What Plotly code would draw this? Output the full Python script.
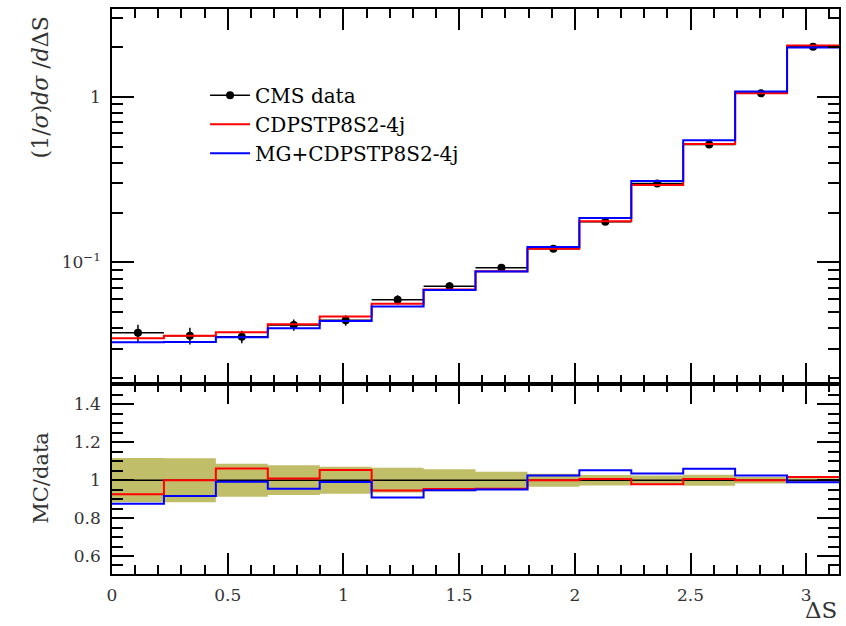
import numpy as np
import plotly.graph_objects as go

# Delta S distribution: 14 equal bins spanning [0, pi]
n_bins = 14
edges = np.linspace(0.0, np.pi, n_bins + 1)
centers = 0.5 * (edges[:-1] + edges[1:])
half_width = 0.5 * (edges[1] - edges[0])

# Normalised cross section (1/sigma) dsigma/dDeltaS
cms_data = [0.0377, 0.0362, 0.0357, 0.0420, 0.0448, 0.0596, 0.0720,
            0.0928, 0.1210, 0.1760, 0.3000, 0.5150, 1.048, 2.000]
cms_err = [0.0044, 0.0042, 0.0031, 0.0033, 0.0032, 0.0039, 0.0042,
           0.0042, 0.0041, 0.0049, 0.0075, 0.0150, 0.0180, 0.0200]
cdp_4j = [0.0349, 0.0362, 0.0379, 0.0424, 0.0472, 0.0564, 0.0687,
          0.0886, 0.1210, 0.1772, 0.2937, 0.5186, 1.048, 2.034]
mg_cdp_4j = [0.0330, 0.0332, 0.0354, 0.0401, 0.0444, 0.0542, 0.0682,
             0.0882, 0.1240, 0.1853, 0.3105, 0.5464, 1.074, 1.978]

legend_names = ["CMS data", "CDPSTP8S2-4j", "MG+CDPSTP8S2-4j"]

data_arr = np.array(cms_data)
err_arr = np.array(cms_err)


def step(vals):
    v = list(vals)
    return v + [v[-1]]


FONT = "DejaVu Serif"
RED = "#ff0000"
BLUE = "#0000ff"
BAND = "#c0be68"

fig = go.Figure()

# ---- upper panel ----
# data points with bin-width horizontal bars and vertical error bars
fig.add_trace(go.Scatter(
    x=centers, y=cms_data, mode="markers", showlegend=False,
    marker=dict(color="black", size=8),
    error_y=dict(type="data", array=cms_err, color="black", thickness=1.5, width=0),
    error_x=dict(type="constant", value=half_width, color="black", thickness=1.5, width=0),
    xaxis="x2", yaxis="y2"))
# legend entry for the data: marker with a line through it
fig.add_trace(go.Scatter(
    x=[None], y=[None], mode="lines+markers", name=legend_names[0],
    line=dict(color="black", width=1.5), marker=dict(color="black", size=8),
    xaxis="x2", yaxis="y2"))
fig.add_trace(go.Scatter(
    x=edges, y=step(cdp_4j), mode="lines", line_shape="hv",
    line=dict(color=RED, width=2), name=legend_names[1],
    xaxis="x2", yaxis="y2"))
fig.add_trace(go.Scatter(
    x=edges, y=step(mg_cdp_4j), mode="lines", line_shape="hv",
    line=dict(color=BLUE, width=2), name=legend_names[2],
    xaxis="x2", yaxis="y2"))

# ---- ratio panel ----
band_lo = 1.0 - err_arr / data_arr
band_hi = 1.0 + err_arr / data_arr
fig.add_trace(go.Scatter(
    x=edges, y=step(band_lo), mode="lines", line_shape="hv",
    line=dict(width=0, color=BAND), showlegend=False, xaxis="x", yaxis="y"))
fig.add_trace(go.Scatter(
    x=edges, y=step(band_hi), mode="lines", line_shape="hv",
    line=dict(width=0, color=BAND), fill="tonexty", fillcolor=BAND,
    showlegend=False, xaxis="x", yaxis="y"))
fig.add_trace(go.Scatter(
    x=edges, y=step(data_arr / data_arr), mode="lines", line_shape="hv",
    line=dict(color="black", width=1.5), showlegend=False, xaxis="x", yaxis="y"))
fig.add_trace(go.Scatter(
    x=edges, y=step(np.array(cdp_4j) / data_arr), mode="lines", line_shape="hv",
    line=dict(color=RED, width=2), showlegend=False, xaxis="x", yaxis="y"))
fig.add_trace(go.Scatter(
    x=edges, y=step(np.array(mg_cdp_4j) / data_arr), mode="lines", line_shape="hv",
    line=dict(color=BLUE, width=2), showlegend=False, xaxis="x", yaxis="y"))

tick_font = dict(family=FONT, size=17, color="#333333")
axis_common = dict(showline=True, linecolor="black", linewidth=1.5, mirror="ticks",
                   ticks="inside", tickcolor="black", tickwidth=1.5,
                   showgrid=False, zeroline=False)

log_minor = [k * 10.0 ** e for e in (-2, -1, 0) for k in range(2, 10)]

fig.update_layout(
    width=846, height=626,
    margin=dict(l=112, r=5, t=9, b=52),
    paper_bgcolor="white", plot_bgcolor="white",
    showlegend=True,
    legend=dict(x=0.128, y=0.882, xanchor="left", yanchor="top", traceorder="normal",
                bgcolor="rgba(0,0,0,0)", font=dict(family=FONT, size=20, color="black"),
                itemwidth=40, tracegroupgap=0),
    xaxis=dict(domain=[0, 1], range=[0, np.pi], anchor="y",
               tickvals=[0, 0.5, 1, 1.5, 2, 2.5, 3], ticktext=["0", "0.5", "1", "1.5", "2", "2.5", "3"],
               ticklen=21, tickfont=tick_font, ticklabelstandoff=5,
               minor=dict(dtick=0.1, ticklen=9, ticks="inside", tickcolor="black", tickwidth=1.5),
               **axis_common),
    yaxis=dict(domain=[0, 0.337], range=[0.505, 1.51], anchor="x",
               tickvals=[0.6, 0.8, 1.0, 1.2, 1.4], ticktext=["0.6", "0.8", "1", "1.2", "1.4"],
               ticklen=22, tickfont=tick_font, ticklabelstandoff=6,
               minor=dict(dtick=0.05, ticklen=11, ticks="inside", tickcolor="black", tickwidth=1.5),
               **axis_common),
    xaxis2=dict(domain=[0, 1], range=[0, np.pi], anchor="y2", matches="x",
                tickvals=[0, 0.5, 1, 1.5, 2, 2.5, 3], showticklabels=False, ticklen=21,
                minor=dict(dtick=0.1, ticklen=9, ticks="inside", tickcolor="black", tickwidth=1.5),
                **axis_common),
    yaxis2=dict(domain=[0.337, 1], type="log", range=[np.log10(0.0186), np.log10(3.38)],
                anchor="x2", tickvals=[0.1, 1], ticktext=["10<sup>\u22121</sup>", "1"],
                ticklen=22, tickfont=tick_font, ticklabelstandoff=6,
                minor=dict(tickvals=log_minor, ticklen=11, ticks="inside", tickcolor="black", tickwidth=1.5),
                **axis_common),
)

# Axis titles
fig.add_annotation(
    text="(1/<i>\u03c3</i>)<i>d\u03c3</i> /<i>d</i>\u0394S",
    xref="paper", yref="paper", x=-0.098, y=0.99, xanchor="center", yanchor="top",
    textangle=-90, showarrow=False, font=dict(family=FONT, size=22, color="#333333"))
fig.add_annotation(
    text="MC/data", xref="paper", yref="paper", x=-0.098, y=0.17,
    xanchor="center", yanchor="middle", textangle=-90, showarrow=False,
    font=dict(family=FONT, size=21, color="#333333"))
fig.add_annotation(
    text="\u0394S", xref="paper", yref="paper", x=1.0, y=-0.091,
    xanchor="right", yanchor="bottom", showarrow=False,
    font=dict(family=FONT, size=23, color="#333333"))

fig.write_html("out.html")
